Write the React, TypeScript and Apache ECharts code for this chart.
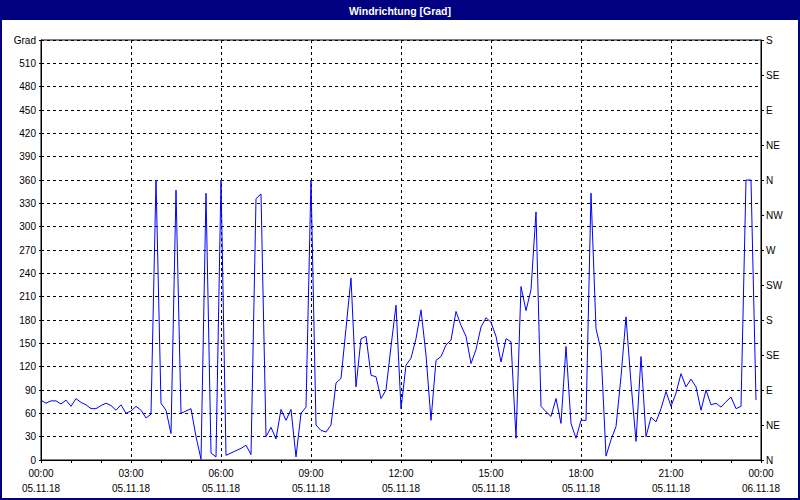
import React, { useEffect, useRef } from "react";
import * as echarts from "echarts";

// Wind direction in degrees, one value every 10 minutes from 00:00 to 23:50 (05.11.18)
const STEP_MINUTES = 10;
const VALUES: number[] = [
  77, 73, 76, 76, 72, 77, 69, 79, 74, 71,
  66, 66, 70, 73, 70, 64, 71, 60, 63, 69,
  64, 54, 59, 360, 73, 64, 34, 347, 60, 63,
  66, 30, 1, 343, 9, 4, 360, 6, 9, 12,
  15, 19, 7, 336, 342, 30, 42, 27, 65, 51,
  65, 4, 60, 68, 360, 45, 38, 36, 45, 99,
  105, 169, 234, 94, 156, 159, 109, 107, 79, 90,
  146, 199, 66, 122, 131, 156, 193, 135, 51, 128,
  133, 148, 154, 191, 173, 159, 124, 142, 171, 183,
  177, 159, 126, 156, 152, 28, 223, 192, 219, 319,
  69, 62, 56, 79, 47, 146, 47, 28, 51, 51,
  343, 169, 141, 5, 26, 43, 107, 184, 99, 24,
  133, 30, 55, 49, 66, 88, 69, 86, 111, 94,
  104, 94, 64, 90, 71, 73, 68, 75, 81, 66,
  69, 360, 360, 77,
];

const X_TIME_LABELS = ["00:00", "03:00", "06:00", "09:00", "12:00", "15:00", "18:00", "21:00", "00:00"];
const X_DATE_LABELS = ["05.11.18", "05.11.18", "05.11.18", "05.11.18", "05.11.18", "05.11.18", "05.11.18", "05.11.18", "06.11.18"];
const LEFT_LABELS = ["0", "30", "60", "90", "120", "150", "180", "210", "240", "270", "300", "330", "360", "390", "420", "450", "480", "510", "Grad"];
const RIGHT_LABELS = ["N", "NE", "E", "SE", "S", "SW", "W", "NW", "N", "NE", "E", "SE", "S"];

const FONT = "Liberation Sans";

export default function App() {
  const ref = useRef<HTMLDivElement>(null);

  useEffect(() => {
    if (!ref.current) return;
    const chart = echarts.init(ref.current, null, { renderer: "svg" });
    const dashed = { color: "#000", width: 1, type: [3, 3] as any };
    chart.setOption({
      animation: false,
      backgroundColor: "#ffffff",
      grid: {
        left: 41,
        top: 40,
        width: 720,
        height: 420,
        show: true,
        borderColor: "#000",
        borderWidth: 1,
        backgroundColor: "transparent",
      },
      graphic: [
        { type: "rect", shape: { x: 0, y: 0, width: 800, height: 20 }, style: { fill: "#000080" }, z: 10 },
        {
          type: "text",
          x: 400,
          y: 11,
          z: 11,
          style: {
            text: "Windrichtung [Grad]",
            fill: "#ffffff",
            font: `bold 10.5px "${FONT}"`,
            textAlign: "center",
            textVerticalAlign: "middle",
          },
        },
        {
          type: "rect",
          shape: { x: 1, y: 1, width: 798, height: 498 },
          style: { fill: "none", stroke: "#000080", lineWidth: 2 },
          z: 10,
        },
      ],
      xAxis: {
        type: "value",
        min: 0,
        max: 1440,
        interval: 180,
        axisLine: { show: true, lineStyle: { color: "#000", width: 1 } },
        axisTick: { show: true, length: 3, lineStyle: { color: "#000" } },
        minorTick: { show: true, splitNumber: 3, length: 3, lineStyle: { color: "#000" } },
        splitLine: { show: true, lineStyle: dashed },
        axisLabel: {
          margin: 6,
          color: "#000",
          fontFamily: FONT,
          fontSize: 10,
          lineHeight: 15,
          formatter: (v: number) => {
            const k = Math.round(v / 180);
            return `${X_TIME_LABELS[k]}\n${X_DATE_LABELS[k]}`;
          },
        },
      },
      yAxis: [
        {
          type: "value",
          min: 0,
          max: 540,
          interval: 30,
          position: "left",
          axisLine: { show: true, lineStyle: { color: "#000" } },
          axisTick: { show: true, length: 2, lineStyle: { color: "#000" } },
          splitLine: { show: true, lineStyle: dashed },
          axisLabel: {
            margin: 5,
            color: "#000",
            fontFamily: FONT,
            fontSize: 10,
            formatter: (v: number) => LEFT_LABELS[Math.round(v / 30)],
          },
        },
        {
          type: "value",
          min: 0,
          max: 540,
          interval: 45,
          position: "right",
          axisLine: { show: true, lineStyle: { color: "#000" } },
          axisTick: { show: true, length: 3, lineStyle: { color: "#000" } },
          splitLine: { show: false },
          axisLabel: {
            margin: 5,
            color: "#000",
            fontFamily: FONT,
            fontSize: 10,
            formatter: (v: number) => RIGHT_LABELS[Math.round(v / 45)],
          },
        },
      ],
      series: [
        {
          type: "line",
          yAxisIndex: 0,
          data: VALUES.map((v, i) => [i * STEP_MINUTES, v]),
          showSymbol: false,
          symbol: "none",
          lineStyle: { color: "#0000ff", width: 1 },
          itemStyle: { color: "#0000ff" },
        },
      ],
    });
    return () => chart.dispose();
  }, []);

  return (
    <div
      ref={ref}
      style={{ position: "absolute", left: 0, top: 0, width: 800, height: 500, background: "#fff" }}
    />
  );
}
